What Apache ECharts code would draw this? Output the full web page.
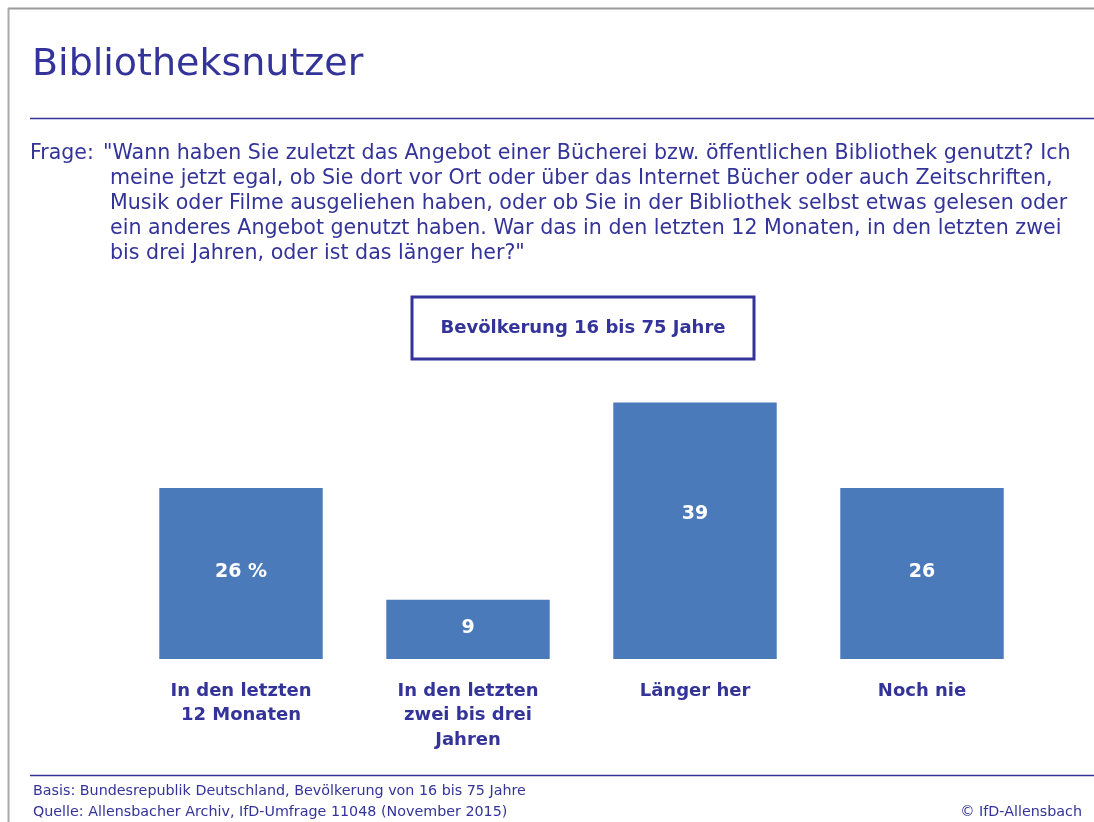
<!DOCTYPE html>
<html>
<head>
<meta charset="utf-8">
<script src="https://cdn.jsdelivr.net/npm/echarts@6/dist/echarts.min.js"></script>
<style>
  html, body { margin: 0; padding: 0; background: #fff; }
  #chart { width: 1094px; height: 822px; }
</style>
</head>
<body>
<div id="chart"></div>
<script>
// data
const categories = ["In den letzten\n12 Monaten", "In den letzten\nzwei bis drei\nJahren", "Länger her", "Noch nie"];
const values = [26, 9, 39, 26];
const valueLabels = ["26 %", "9", "39", "26"];

const questionLines = [
    "\"Wann haben Sie zuletzt das Angebot einer Bücherei bzw. öffentlichen Bibliothek genutzt? Ich",
    "meine jetzt egal, ob Sie dort vor Ort oder über das Internet Bücher oder auch Zeitschriften,",
    "Musik oder Filme ausgeliehen haben, oder ob Sie in der Bibliothek selbst etwas gelesen oder",
    "ein anderes Angebot genutzt haben. War das in den letzten 12 Monaten, in den letzten zwei",
    "bis drei Jahren, oder ist das länger her?\""
];

const dark = "#333399";
const barColor = "#4a7aba";
const font = "DejaVu Sans";

var myChart = echarts.init(document.getElementById('chart'));

let graphics = [
    // gray frame
    { type: 'line', shape: { x1: 8, y1: 8.5, x2: 1094, y2: 8.5 }, style: { stroke: '#999', lineWidth: 2 } },
    { type: 'line', shape: { x1: 8.5, y1: 8, x2: 8.5, y2: 822 }, style: { stroke: '#aaa', lineWidth: 2 } },
    // blue rules
    { type: 'line', shape: { x1: 30, y1: 118.5, x2: 1094, y2: 118.5 }, style: { stroke: dark, lineWidth: 1.5 } },
    { type: 'line', shape: { x1: 30, y1: 775.5, x2: 1094, y2: 775.5 }, style: { stroke: dark, lineWidth: 1.5 } },
    {
        type: 'text', left: 30, top: 143,
        style: { text: 'Frage:', fill: dark, font: '20.5px "' + font + '"' }
    },
    // subgroup box
    {
        type: 'rect', shape: { x: 412, y: 297, width: 342, height: 62 },
        style: { fill: '#fff', stroke: dark, lineWidth: 3 }
    },
    {
        type: 'text', x: 583, y: 328,
        style: { text: 'Bevölkerung 16 bis 75 Jahre', fill: dark, font: 'bold 18px "' + font + '"', align: 'center', verticalAlign: 'middle' }
    },
    // footer
    {
        type: 'text', left: 33, top: 784,
        style: { text: 'Basis: Bundesrepublik Deutschland, Bevölkerung von 16 bis 75 Jahre', fill: dark, font: '14.3px "' + font + '"' }
    },
    {
        type: 'text', left: 33, top: 805,
        style: { text: 'Quelle: Allensbacher Archiv, IfD-Umfrage 11048 (November 2015)', fill: dark, font: '14.3px "' + font + '"' }
    },
    {
        type: 'text', right: 12, top: 805,
        style: { text: '© IfD-Allensbach', fill: dark, font: '14.3px "' + font + '"' }
    }
];
// question text, one element per line
for (let i = 0; i < questionLines.length; i++) {
    graphics.push({
        type: 'text', left: i == 0 ? 103 : 110, top: 143 + i * 25,
        style: { text: questionLines[i], fill: dark, font: '20.6px "' + font + '"' }
    });
}

var option = {
    animation: false,
    title: {
        text: 'Bibliotheksnutzer',
        left: 27, top: 41,
        textStyle: { color: dark, fontFamily: font, fontSize: 38, fontWeight: 'normal' }
    },
    graphic: graphics,
    grid: { left: 127.5, right: 58.5, top: 396, bottom: 163 },
    xAxis: {
        type: 'category',
        data: categories,
        axisLine: { show: false },
        axisTick: { show: false },
        axisLabel: {
            color: dark, fontFamily: font, fontWeight: 'bold', fontSize: 18,
            lineHeight: 24.5, margin: 20, interval: 0
        }
    },
    yAxis: { type: 'value', min: 0, max: 40, show: false },
    series: [{
        type: 'bar',
        barCategoryGap: '28%',
        itemStyle: { color: barColor },
        data: values.map(function (v, i) {
            return {
                value: v,
                label: { offset: i == 2 ? [0, -17] : [0, -1] }
            };
        }),
        label: {
            show: true,
            position: 'inside',
            color: '#fff',
            fontFamily: font,
            fontWeight: 'bold',
            fontSize: 19,
            formatter: function (p) { return valueLabels[p.dataIndex]; }
        }
    }]
};

myChart.setOption(option);
</script>
</body>
</html>
